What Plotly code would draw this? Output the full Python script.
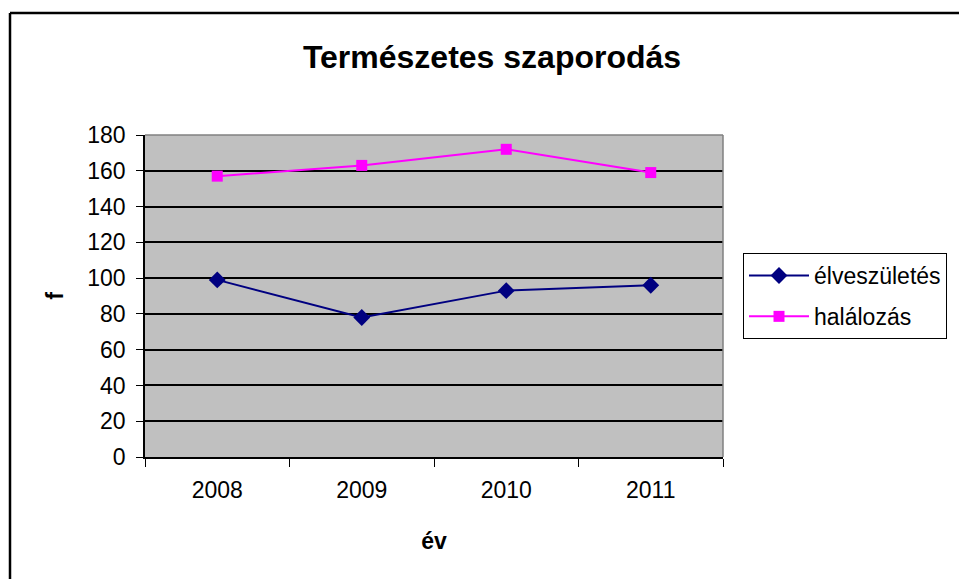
import plotly.graph_objects as go

years = ["2008", "2009", "2010", "2011"]
elveszuletes = [99, 78, 93, 96]
halalozas = [157, 163, 172, 159]
y_ticks = [0, 20, 40, 60, 80, 100, 120, 140, 160, 180]

FONT = "Liberation Sans, Arial, sans-serif"

fig = go.Figure()
fig.add_trace(go.Scatter(
    x=years, y=elveszuletes, name="élveszületés", mode="lines+markers",
    legendgroup="a",
    line=dict(color="#000080", width=2),
    marker=dict(symbol="diamond", size=13, color="#000080"),
))
fig.add_trace(go.Scatter(
    x=years, y=halalozas, name="halálozás", mode="lines+markers",
    legendgroup="b",
    line=dict(color="#FF00FF", width=2),
    marker=dict(symbol="square", size=11, color="#FF00FF"),
))

W, H = 959, 579
L, R, T, B = 145, 723, 135, 457
pw, ph = R - L, B - T

def px(x):
    return (x - L) / pw

def py(y):
    return (B - y) / ph

fig.update_layout(
    width=W, height=H,
    margin=dict(l=L, r=W - R, t=T, b=H - B, pad=0),
    paper_bgcolor="white",
    plot_bgcolor="#C0C0C0",
    font=dict(family=FONT, color="black", size=23),
    title=dict(text="<b>Természetes szaporodás</b>", x=px(492), xref="paper",
               xanchor="center", y=1 - 57 / H, yanchor="middle",
               font=dict(size=32, family=FONT)),
    showlegend=True,
    legend=dict(x=px(743), y=py(253), xanchor="left", yanchor="top",
                bordercolor="black", borderwidth=1, bgcolor="white",
                font=dict(size=23, family=FONT), tracegroupgap=8,
                itemwidth=60),
    xaxis=dict(
        type="category", range=[-0.5, 3.5], tickson="boundaries",
        ticks="outside", ticklen=8, tickwidth=1, tickcolor="black",
        showline=True, linecolor="black", linewidth=1.5,
        showgrid=False, zeroline=False,
        tickfont=dict(size=23), ticklabelstandoff=12,
        title=dict(text="<b>év</b>", font=dict(size=23), standoff=31),
    ),
    yaxis=dict(
        range=[0, 180], tickvals=y_ticks,
        ticks="outside", ticklen=7, tickwidth=1, tickcolor="black",
        showline=True, linecolor="black", linewidth=1.5,
        showgrid=True, gridcolor="black", gridwidth=1.5,
        zeroline=False, tickfont=dict(size=23), ticklabelstandoff=6,
        title=dict(text="<b>f</b>", font=dict(size=23), standoff=17),
    ),
    shapes=[
        dict(type="line", xref="paper", yref="paper", x0=px(10), x1=px(975),
             y0=py(13), y1=py(13), line=dict(color="black", width=2.5)),
        dict(type="line", xref="paper", yref="paper", x0=px(10), x1=px(10),
             y0=py(13), y1=py(600), line=dict(color="black", width=2.5)),
        dict(type="line", xref="paper", yref="paper", x0=0, x1=1,
             y0=1, y1=1, line=dict(color="#808080", width=1.5), layer="above"),
        dict(type="line", xref="paper", yref="paper", x0=1, x1=1,
             y0=0, y1=1, line=dict(color="#808080", width=1.5), layer="above"),
    ],
)

fig.write_html(
    "out.html",
    config={"displayModeBar": False},
    post_script="document.body.style.margin='0';document.body.style.overflow='hidden';",
)
